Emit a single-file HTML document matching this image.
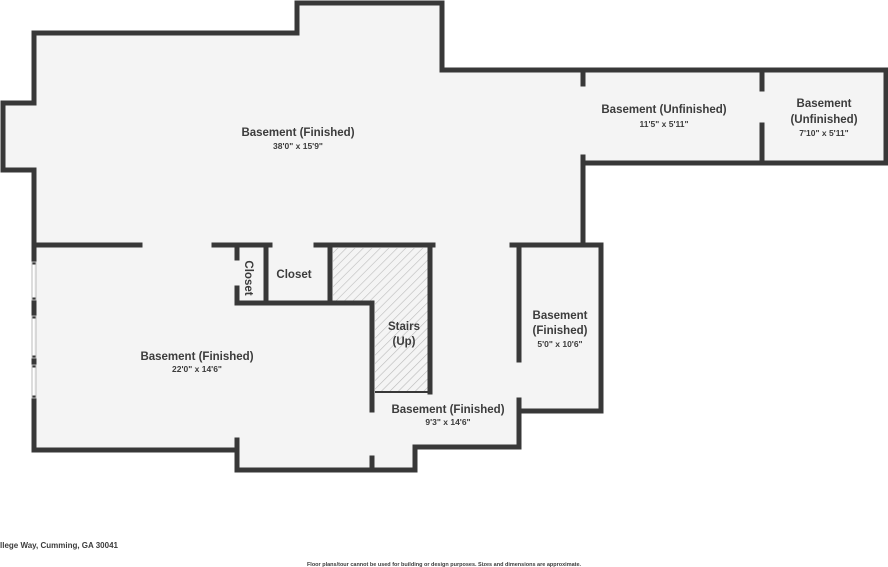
<!DOCTYPE html>
<html><head><style>body{margin:0;background:#fff}svg{display:block}text{font-family:"Liberation Sans",sans-serif;fill:#3c3c3c;font-weight:bold}</style></head><body>
<svg width="888" height="567" viewBox="0 0 888 567">
<defs><pattern id="h" width="6" height="6" patternUnits="userSpaceOnUse" patternTransform="rotate(45)"><rect width="6" height="6" fill="#f4f4f4"/><line x1="0" y1="0" x2="0" y2="6" stroke="#bbb" stroke-width="1.2"/></pattern></defs>
<g fill="#f4f4f4">
<polygon points="34,33 297,33 297,3 442,3 442,70 886,70 886,163 583,163 583,245 34,245 34,170 3,170 3,103 34,103"/>
<polygon points="34,245 601,245 601,411 519,411 519,447 415,447 415,470 237,470 237,450 34,450"/>
</g>
<rect x="333" y="248" width="95" height="54" fill="url(#h)"/>
<rect x="375" y="300" width="53" height="92" fill="url(#h)"/>
<g stroke="#383838" stroke-width="5" fill="none" stroke-linecap="square">
<polyline points="34,103 34,33 297,33 297,3 442,3 442,70 886,70 886,163 583,163 583,245"/>
<polyline points="34,103 3,103 3,170 34,170 34,262"/>
<line x1="583" y1="70" x2="583" y2="84"/><line x1="583" y1="157" x2="583" y2="163"/>
<line x1="762" y1="70" x2="762" y2="89"/><line x1="762" y1="125" x2="762" y2="163"/>
<line x1="34" y1="245" x2="140" y2="245"/><line x1="214" y1="245" x2="270" y2="245"/>
<line x1="316" y1="245" x2="433" y2="245"/><line x1="512" y1="245" x2="601" y2="245"/>
<polyline points="601,245 601,411 519,411"/>
<polyline points="519,245 519,360"/><polyline points="519,400 519,447 415,447 415,470 237,470 237,440"/>
<polyline points="237,450 34,450 34,398"/>
<line x1="34" y1="300" x2="34" y2="316"/><line x1="34" y1="358" x2="34" y2="365"/>
<line x1="237" y1="245" x2="237" y2="258"/><polyline points="237,288 237,303 372,303 372,410"/>
<line x1="372" y1="458" x2="372" y2="470"/>
<line x1="266" y1="245" x2="266" y2="303"/><line x1="330" y1="245" x2="330" y2="303"/>
<line x1="430" y1="245" x2="430" y2="392"/>
</g>
<line x1="375" y1="392" x2="430" y2="392" stroke="#383838" stroke-width="2"/>
<g stroke="#bbb" stroke-width="1" fill="none">
<rect x="32" y="262" width="4" height="38"/><rect x="32" y="316" width="4" height="42"/><rect x="32" y="365" width="4" height="33"/>
</g>
<g font-size="11.5" text-anchor="middle">
<text x="298" y="136">Basement (Finished)</text>
<text x="664" y="113">Basement (Unfinished)</text>
<text x="824" y="107">Basement</text><text x="824" y="123">(Unfinished)</text>
<text x="197" y="360">Basement (Finished)</text>
<text x="448" y="413">Basement (Finished)</text>
<text x="560" y="319">Basement</text><text x="560" y="334">(Finished)</text>
<text x="404" y="330">Stairs</text><text x="404" y="345">(Up)</text>
<text x="294" y="278">Closet</text>
<text transform="translate(249,278) rotate(90)" y="4">Closet</text>
</g>
<g font-size="8.5" text-anchor="middle">
<text x="298" y="149">38'0" x 15'9"</text>
<text x="664" y="127">11'5" x 5'11"</text>
<text x="824" y="136">7'10" x 5'11"</text>
<text x="197" y="372">22'0" x 14'6"</text>
<text x="448" y="425">9'3" x 14'6"</text>
<text x="560" y="347">5'0" x 10'6"</text>
</g>
<text x="0" y="548" font-size="8">llege Way, Cumming, GA 30041</text>
<text x="444" y="566" font-size="5.5" text-anchor="middle">Floor plans/tour cannot be used for building or design purposes. Sizes and dimensions are approximate.</text>
</svg>
</body></html>
